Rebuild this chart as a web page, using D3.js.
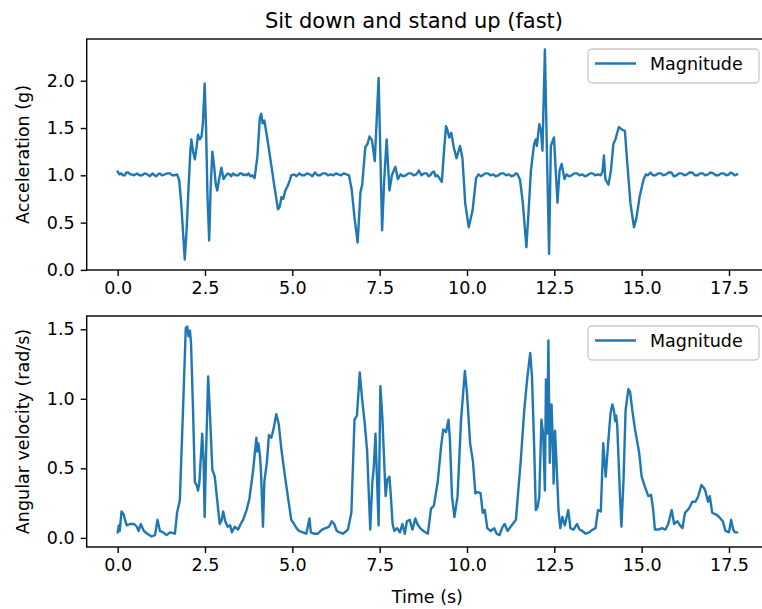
<!DOCTYPE html>
<html>
<head>
<meta charset="utf-8">
<script src="https://cdn.jsdelivr.net/npm/d3@7"></script>
<style>
  body { margin: 0; background: #fff; }
  text { font-family: "DejaVu Sans", sans-serif; fill: #000; }
</style>
</head>
<body>
<svg id="chart" width="762" height="609"></svg>
<script>
// accelerometer magnitude (g)
const accTime = [0.00,0.05,0.10,0.15,0.20,0.25,0.30,0.36,0.40,0.47,0.55,0.62,0.70,0.77,0.85,0.92,1.00,1.05,1.10,1.16,
  1.20,1.27,1.35,1.42,1.50,1.56,1.62,1.70,1.76,1.82,1.88,1.92,
  1.97,2.02,2.08,2.11,2.16,2.21,2.26,2.30,2.35,2.40,2.44,2.49,2.53,2.57,2.62,2.66,2.71,2.76,2.81,2.85,
  2.90,2.97,3.03,3.10,3.16,3.20,3.25,3.30,3.37,3.45,3.50,3.55,3.60,3.65,3.70,3.75,3.80,3.85,3.92,4.00,4.07,4.11,4.15,4.20,4.30,4.40,4.50,
  4.59,4.64,4.69,4.74,4.80,4.87,4.93,4.97,5.05,5.12,5.20,5.27,5.35,5.42,5.50,5.57,5.65,5.72,5.80,5.87,5.95,6.02,6.10,6.17,6.25,6.32,6.40,6.47,6.55,6.62,
  6.70,6.78,6.87,6.95,7.00,7.09,7.15,7.21,7.28,7.36,7.47,7.57,7.63,7.70,7.78,7.85,7.95,8.02,8.10,8.17,8.25,8.32,
  8.40,8.47,8.55,8.62,8.70,8.77,8.85,8.90,8.95,9.00,9.05,9.10,9.15,9.21,9.28,9.34,9.40,9.44,9.49,9.55,9.62,9.70,9.80,9.87,9.95,
  10.05,10.16,10.26,10.33,10.40,10.45,10.52,10.60,10.67,10.75,10.82,10.90,10.97,11.05,11.12,11.20,11.27,11.35,11.40,11.45,11.52,11.60,11.70,11.76,11.83,11.92,11.97,12.00,
  12.07,12.12,12.16,12.23,12.29,12.35,12.40,12.45,12.49,12.54,12.59,12.65,12.71,12.79,12.85,12.92,13.00,13.07,13.15,13.22,13.30,13.37,13.45,13.52,13.60,13.67,
  13.75,13.83,13.88,13.92,13.96,14.05,14.12,14.19,14.25,14.30,14.35,14.45,14.52,14.59,14.68,14.78,14.85,14.94,15.05,15.12,
  15.18,15.25,15.32,15.40,15.47,15.55,15.62,15.70,15.77,15.85,15.92,16.00,16.07,16.15,16.22,16.30,16.37,16.45,16.52,16.60,16.67,16.75,16.82,16.90,16.97,
  17.05,17.12,17.20,17.27,17.35,17.42,17.50,17.55,17.60,17.66,17.73];
const accMag = [1.04,1.01,1.02,1.00,1.00,1.03,1.03,1.01,1.01,1.00,1.02,1.00,1.00,1.02,1.01,0.99,1.02,1.00,0.99,1.01,
  1.02,1.00,1.01,1.02,1.02,1.00,1.00,1.01,0.95,0.70,0.35,0.11,
  0.40,0.80,1.25,1.38,1.25,1.17,1.30,1.43,1.38,1.41,1.55,1.97,1.50,0.80,0.31,0.85,1.25,1.10,0.90,0.84,
  0.95,1.08,0.96,1.00,1.02,1.01,0.99,1.02,1.00,1.00,1.02,1.02,1.00,1.01,1.00,1.02,0.99,1.00,0.97,1.20,1.61,1.65,1.55,1.58,1.35,1.10,0.85,
  0.64,0.67,0.77,0.75,0.84,0.89,0.95,1.00,1.01,0.99,1.02,1.00,1.00,1.02,1.01,0.99,1.03,1.00,1.00,1.02,1.02,1.00,1.01,1.00,1.02,1.01,1.00,1.02,1.01,1.00,
  0.85,0.55,0.29,0.82,0.90,1.30,1.33,1.41,1.37,1.15,2.03,0.42,0.95,1.38,0.84,1.00,1.09,0.96,1.01,0.99,1.00,1.02,
  1.02,1.00,1.01,1.05,1.00,1.02,1.02,0.99,1.00,1.03,1.04,0.99,1.00,0.97,0.93,1.25,1.52,1.48,1.40,1.45,1.30,1.18,1.31,1.18,0.70,
  0.45,0.63,0.97,1.01,0.99,1.00,1.02,1.02,1.00,1.01,0.99,1.00,1.02,1.02,1.00,1.01,0.99,1.00,1.02,1.01,0.95,0.70,0.24,0.60,1.05,1.33,1.38,1.31,
  1.54,1.47,1.26,2.33,1.20,0.17,1.31,1.36,1.40,1.05,0.71,1.05,1.12,0.96,1.01,0.99,1.00,1.02,1.02,1.00,1.01,0.99,1.00,1.02,1.02,1.00,
  1.01,1.00,1.04,1.21,0.96,0.90,1.05,1.33,1.38,1.45,1.51,1.48,1.47,1.12,0.70,0.45,0.55,0.77,0.95,1.01,
  1.00,1.03,1.00,1.00,1.02,1.02,1.00,1.01,1.03,1.03,0.99,1.00,1.02,1.02,1.00,1.01,1.03,1.03,1.00,1.00,1.02,1.02,1.00,1.01,1.03,
  1.02,1.00,1.00,1.02,1.02,1.00,1.01,1.03,1.02,1.00,1.01];

// gyroscope magnitude (rad/s)
const gyroTime = [0.00,0.03,0.06,0.11,0.17,0.22,0.26,0.35,0.47,0.55,0.60,0.66,0.75,0.85,0.97,1.07,1.14,1.21,1.30,1.40,
  1.50,1.64,1.70,1.78,1.87,1.95,1.99,2.03,2.07,2.10,2.16,2.21,2.26,2.30,2.34,2.42,2.46,2.49,2.53,2.59,
  2.64,2.71,2.78,2.85,2.92,2.97,3.02,3.08,3.15,3.22,3.27,3.35,3.45,3.52,3.59,3.69,3.77,3.88,3.97,4.00,
  4.03,4.07,4.10,4.16,4.20,4.27,4.33,4.40,4.46,4.54,4.61,4.69,4.78,4.87,4.97,5.05,5.12,5.19,5.30,5.40,
  5.49,5.53,5.62,5.73,5.85,5.95,6.05,6.13,6.20,6.27,6.35,6.45,6.59,6.69,6.78,6.85,6.93,7.00,7.07,7.14,
  7.23,7.29,7.33,7.38,7.42,7.47,7.52,7.58,7.67,7.72,7.78,7.82,7.87,7.92,8.00,8.08,8.15,8.22,8.28,8.36,
  8.44,8.52,8.58,8.66,8.75,8.88,8.97,9.05,9.16,9.26,9.32,9.40,9.47,9.51,9.57,9.64,9.73,9.83,9.94,10.00,
  10.09,10.17,10.24,10.31,10.39,10.45,10.51,10.58,10.68,10.78,10.85,10.93,11.02,11.08,11.16,11.25,11.40,11.54,11.64,11.73,
  11.81,11.86,11.92,11.97,12.02,12.07,12.13,12.18,12.23,12.26,12.30,12.33,12.37,12.42,12.46,12.48,12.52,12.56,12.62,12.67,
  12.73,12.80,12.90,12.96,13.05,13.15,13.22,13.30,13.40,13.50,13.60,13.68,13.75,13.83,13.90,13.97,14.04,14.11,14.16,14.21,
  14.24,14.27,14.30,14.38,14.42,14.48,14.54,14.62,14.67,14.73,14.81,14.93,15.00,15.09,15.19,15.27,15.33,15.38,15.48,15.58,
  15.68,15.76,15.86,15.93,16.02,16.10,16.17,16.24,16.35,16.45,16.54,16.62,16.71,16.78,16.82,16.90,16.95,17.02,17.12,17.22,
  17.32,17.40,17.50,17.56,17.62,17.67,17.73];
const gyroMag = [0.04,0.09,0.05,0.19,0.17,0.12,0.09,0.10,0.10,0.08,0.05,0.10,0.05,0.03,0.01,0.02,0.13,0.05,0.04,0.02,
  0.04,0.03,0.18,0.27,0.92,1.51,1.52,1.45,1.49,1.40,0.90,0.40,0.38,0.34,0.40,0.75,0.55,0.15,0.60,1.16,
  0.90,0.49,0.44,0.27,0.10,0.12,0.19,0.12,0.08,0.09,0.04,0.08,0.06,0.10,0.13,0.20,0.28,0.49,0.72,0.62,
  0.68,0.60,0.49,0.08,0.41,0.54,0.74,0.72,0.78,0.89,0.82,0.63,0.46,0.30,0.13,0.10,0.07,0.05,0.04,0.03,
  0.14,0.04,0.03,0.03,0.06,0.07,0.08,0.12,0.10,0.05,0.04,0.03,0.06,0.18,0.85,0.88,1.19,0.99,0.83,0.63,
  0.06,0.40,0.50,0.75,0.45,0.09,1.09,0.85,0.30,0.42,0.44,0.30,0.10,0.05,0.07,0.04,0.10,0.03,0.12,0.13,
  0.06,0.14,0.10,0.07,0.05,0.03,0.21,0.23,0.40,0.66,0.78,0.76,0.85,0.71,0.30,0.15,0.30,0.85,1.20,1.04,
  0.68,0.55,0.32,0.33,0.32,0.18,0.20,0.07,0.05,0.07,0.03,0.02,0.08,0.10,0.05,0.08,0.13,0.56,0.92,1.16,
  1.33,1.16,0.68,0.20,0.22,0.30,0.85,0.75,0.34,1.14,0.75,1.42,0.54,0.96,0.65,0.39,0.77,0.55,0.20,0.07,
  0.15,0.09,0.20,0.07,0.06,0.10,0.06,0.05,0.03,0.04,0.06,0.07,0.20,0.19,0.68,0.44,0.68,0.90,0.96,0.91,
  0.84,0.88,0.81,0.30,0.08,0.41,0.92,1.07,1.05,0.92,0.78,0.61,0.44,0.37,0.30,0.31,0.20,0.06,0.06,0.07,
  0.06,0.10,0.20,0.10,0.12,0.09,0.07,0.18,0.21,0.26,0.26,0.30,0.38,0.36,0.34,0.26,0.30,0.18,0.17,0.15,
  0.12,0.05,0.04,0.13,0.06,0.04,0.04];

const xTicks = [0, 2.5, 5, 7.5, 10, 12.5, 15, 17.5];
const accTicks = [0, 0.5, 1, 1.5, 2];
const gyroTicks = [0, 0.5, 1, 1.5];

const title = "Sit down and stand up (fast)";
const legendLabel = "Magnitude";
const lineColor = "#1f77b4";
const fontSize = 17.5;

const svg = d3.select("#chart");

// matplotlib style 5% margins around the data
function padded(extent) {
  const m = (extent[1] - extent[0]) * 0.05;
  return [extent[0] - m, extent[1] + m];
}

const left = 86.7, right = 768;
const xScale = d3.scaleLinear()
                 .domain(padded(d3.extent(accTime.concat(gyroTime))))
                 .range([left, right]);

function drawPanel(times, values, top, bottom, yTicks, ylabel) {
  const yScale = d3.scaleLinear()
                   .domain(padded(d3.extent(values)))
                   .range([bottom, top]);

  const g = svg.append("g");

  const xAxis = g.append("g")
     .attr("transform", "translate(0," + bottom + ")")
     .call(d3.axisBottom(xScale).tickValues(xTicks).tickFormat(d3.format(".1f"))
             .tickSize(6).tickPadding(6));
  const yAxis = g.append("g")
     .attr("transform", "translate(" + left + ",0)")
     .call(d3.axisLeft(yScale).tickValues(yTicks).tickFormat(d3.format(".1f"))
             .tickSize(6).tickPadding(6));

  [xAxis, yAxis].forEach(a => {
    a.select(".domain").remove();
    a.selectAll("line").attr("stroke", "#000").attr("stroke-width", 1.4);
    a.selectAll("text").attr("font-size", fontSize).attr("font-family", "DejaVu Sans").attr("fill", "#000");
  });

  const line = d3.line()
                 .x((d, i) => xScale(times[i]))
                 .y(d => yScale(d));

  g.append("path")
   .datum(values)
   .attr("fill", "none")
   .attr("stroke", lineColor)
   .attr("stroke-width", 2.4)
   .attr("stroke-linejoin", "round")
   .attr("stroke-linecap", "square")
   .attr("d", line);

  // spines
  g.append("rect")
   .attr("x", left).attr("y", top)
   .attr("width", right - left).attr("height", bottom - top)
   .attr("fill", "none").attr("stroke", "#000").attr("stroke-width", 1.4);

  g.append("text")
   .attr("transform", "translate(29," + ((top + bottom) / 2) + ") rotate(-90)")
   .attr("text-anchor", "middle")
   .attr("font-size", fontSize)
   .text(ylabel);

  // legend, upper right
  const lg = g.append("g").attr("transform", "translate(588," + (top + 10) + ")");
  lg.append("rect")
    .attr("width", 171).attr("height", 34).attr("rx", 4)
    .attr("fill", "#fff").attr("fill-opacity", 0.8)
    .attr("stroke", "#ccc").attr("stroke-width", 1.4);
  lg.append("line")
    .attr("x1", 7).attr("x2", 48).attr("y1", 14.5).attr("y2", 14.5)
    .attr("stroke", lineColor).attr("stroke-width", 2.4);
  lg.append("text")
    .attr("x", 62).attr("y", 21)
    .attr("font-size", fontSize)
    .text(legendLabel);
}

drawPanel(accTime, accMag, 39, 270, accTicks, "Acceleration (g)");
drawPanel(gyroTime, gyroMag, 316, 547, gyroTicks, "Angular velocity (rad/s)");

svg.append("text")
   .attr("x", 414).attr("y", 27.5)
   .attr("text-anchor", "middle")
   .attr("font-size", 21)
   .text(title);

svg.append("text")
   .attr("x", (left + right) / 2).attr("y", 603)
   .attr("text-anchor", "middle")
   .attr("font-size", fontSize)
   .text("Time (s)");
</script>
</body>
</html>
